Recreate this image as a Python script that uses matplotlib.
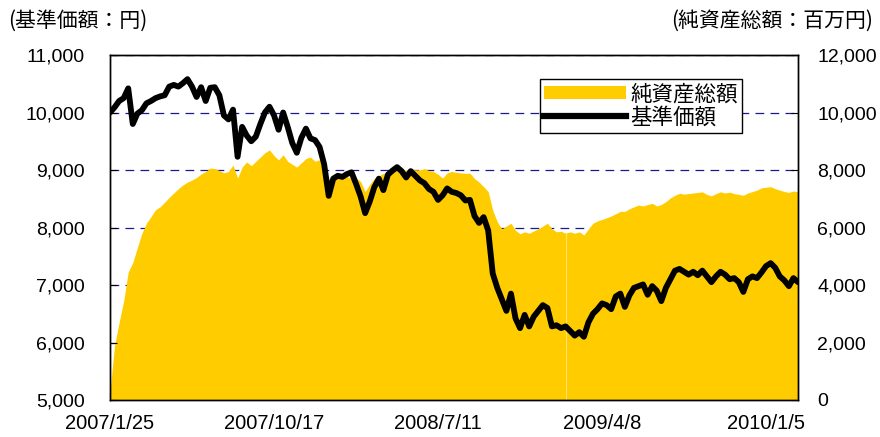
import numpy as np
import matplotlib
matplotlib.use("Agg")
import matplotlib.pyplot as plt
from matplotlib.patches import Patch
from matplotlib.lines import Line2D

plt.rcParams['font.family'] = ['Liberation Sans', 'Noto Sans CJK JP', 'DejaVu Sans']

# Weekly samples (every 5 trading days) starting 2007/1/25
step_days = 5

nav = [10000, 10090, 10200, 10250, 10420, 9800, 9980, 10040, 10160, 10200,
       10250, 10280, 10300, 10450, 10480, 10450, 10510, 10580, 10450, 10270,
       10440, 10200, 10430, 10440, 10300, 9950, 9880, 10050, 9230, 9750,
       9600, 9500, 9580, 9800, 10000, 10100, 9950, 9700, 10000, 9750,
       9470, 9300, 9560, 9720, 9550, 9520, 9400, 9100, 8550, 8850,
       8900, 8880, 8930, 8960, 8760, 8540, 8250, 8450, 8700, 8850,
       8650, 8920, 8990, 9050, 8980, 8870, 8980, 8900, 8820, 8770,
       8670, 8620, 8480, 8560, 8680, 8620, 8600, 8560, 8470, 8480,
       8200, 8080, 8180, 7950, 7200, 6950, 6750, 6550, 6850, 6420,
       6250, 6480, 6280, 6450, 6550, 6650, 6600, 6280, 6300, 6250,
       6280, 6200, 6120, 6180, 6100, 6350, 6500, 6580, 6680, 6650,
       6580, 6800, 6850, 6620, 6820, 6950, 6980, 7010, 6830, 6980,
       6900, 6720, 6950, 7100, 7250, 7280, 7230, 7180, 7230, 7170,
       7250, 7150, 7050, 7150, 7230, 7180, 7100, 7120, 7050, 6880,
       7100, 7150, 7120, 7220, 7330, 7380, 7300, 7150, 7080, 6980,
       7120, 7050]

assets = [300, 1900, 2700, 3450, 4450, 4780, 5300, 5800, 6150, 6380,
          6620, 6720, 6880, 7050, 7200, 7350, 7480, 7580, 7650, 7740,
          7860, 7950, 8070, 8050, 7980, 7900, 7950, 8170, 7720, 8100,
          8280, 8150, 8300, 8450, 8600, 8700, 8500, 8350, 8530, 8300,
          8200, 8100, 8250, 8400, 8450, 8300, 8360, 8050, 7700, 7650,
          7720, 7750, 7780, 7700, 7720, 7600, 7250, 7500, 7700, 7800,
          7880, 7950, 8050, 8080, 8020, 8000, 8030, 8010, 8000, 8050,
          7980, 7950, 7850, 7720, 7900, 7950, 7920, 7900, 7880, 7890,
          7700, 7580, 7420, 7250, 6600, 6200, 5950, 6050, 6150, 5900,
          5780, 5850, 5800, 5880, 5950, 6050, 6150, 5950, 5850, 5870,
          5800, 5850, 5800, 5850, 5740, 5950, 6150, 6230, 6280, 6340,
          6400, 6480, 6560, 6560, 6650, 6720, 6780, 6750, 6800, 6840,
          6750, 6800, 6900, 7030, 7120, 7190, 7160, 7180, 7200, 7220,
          7240, 7150, 7100, 7180, 7240, 7200, 7230, 7180, 7150, 7120,
          7200, 7250, 7300, 7380, 7400, 7420, 7350, 7300, 7250, 7220,
          7270, 7240]

tick_labels = ["2007/1/25", "2007/10/17", "2008/7/11", "2009/4/8", "2010/1/5"]
tick_every = 180  # trading days between date labels

label_nav = "基準価額"
label_assets = "純資産総額"

gold = "#FFCC00"
navy = "#1a1a8c"

days = np.arange(len(nav)) * step_days

fig = plt.figure(figsize=(8.8, 4.37), dpi=100)
ax_r = fig.add_axes([110 / 880, 1 - 400 / 437, 688 / 880, 345 / 437])
ax_l = ax_r.twinx()

# Net assets area on the right-hand scale
ax_r.fill_between(days, 0, assets, color=gold, linewidth=0, zorder=2)
# faint gap in the assets series
gap_idx = 100
ax_r.vlines(days[gap_idx], 0, assets[gap_idx], color="#FFE27A", lw=0.7, zorder=2.5)
ax_r.set_ylim(0, 12000)
ax_r.set_yticks(np.arange(0, 12001, 2000))
ax_r.set_yticklabels([f"{v:,}" for v in range(0, 12001, 2000)])
ax_r.yaxis.tick_right()
ax_r.yaxis.grid(True, color=navy, linestyle=(0, (7, 5)), linewidth=0.9, zorder=1)
ax_r.set_axisbelow(True)
ax_r.tick_params(axis="y", direction="in", length=5, pad=14, labelsize=14,
                 right=True, left=False)

# NAV line on the left-hand scale
ax_l.plot(days, nav, color="black", lw=4.2, solid_joinstyle="round",
          solid_capstyle="round", zorder=3)
ax_l.set_ylim(5000, 11000)
ax_l.set_yticks(np.arange(5000, 11001, 1000))
ax_l.set_yticklabels([f"{v:,}" for v in range(5000, 11001, 1000)])
ax_l.yaxis.tick_left()
ax_l.tick_params(axis="y", direction="in", length=5, pad=18, labelsize=14,
                 left=True, right=False)

ax_r.set_xlim(0, days[-1])
ax_r.set_xticks(np.arange(len(tick_labels)) * tick_every)
ax_r.set_xticklabels(tick_labels)
ax_r.tick_params(axis="x", direction="in", length=5, pad=10, labelsize=14.5)

for a in (ax_r, ax_l):
    for s in a.spines.values():
        s.set_color("black")
        s.set_linewidth(1.0)

handles = [Patch(facecolor=gold, edgecolor="none"),
           Line2D([], [], color="black", lw=4.5)]
leg = ax_l.legend(handles, [label_assets, label_nav],
                  loc="upper left", bbox_to_anchor=(0.625, 0.93),
                  prop={"family": ["Noto Sans CJK JP"], "size": 15.5},
                  frameon=True, fancybox=False, edgecolor="black",
                  framealpha=1, handlelength=3.8, handleheight=0.55,
                  handletextpad=0.2, borderpad=0.2, labelspacing=0.05,
                  borderaxespad=0)
leg.get_frame().set_linewidth(1.0)

fig.text(8 / 880, 1 - 21 / 437, "(基準価額：円)", ha="left", va="center",
         fontsize=15, family=["Noto Sans CJK JP"])
fig.text(873 / 880, 1 - 21 / 437, "(純資産総額：百万円)", ha="right", va="center",
         fontsize=15, family=["Noto Sans CJK JP"])

fig.savefig("out.png", dpi=100)
